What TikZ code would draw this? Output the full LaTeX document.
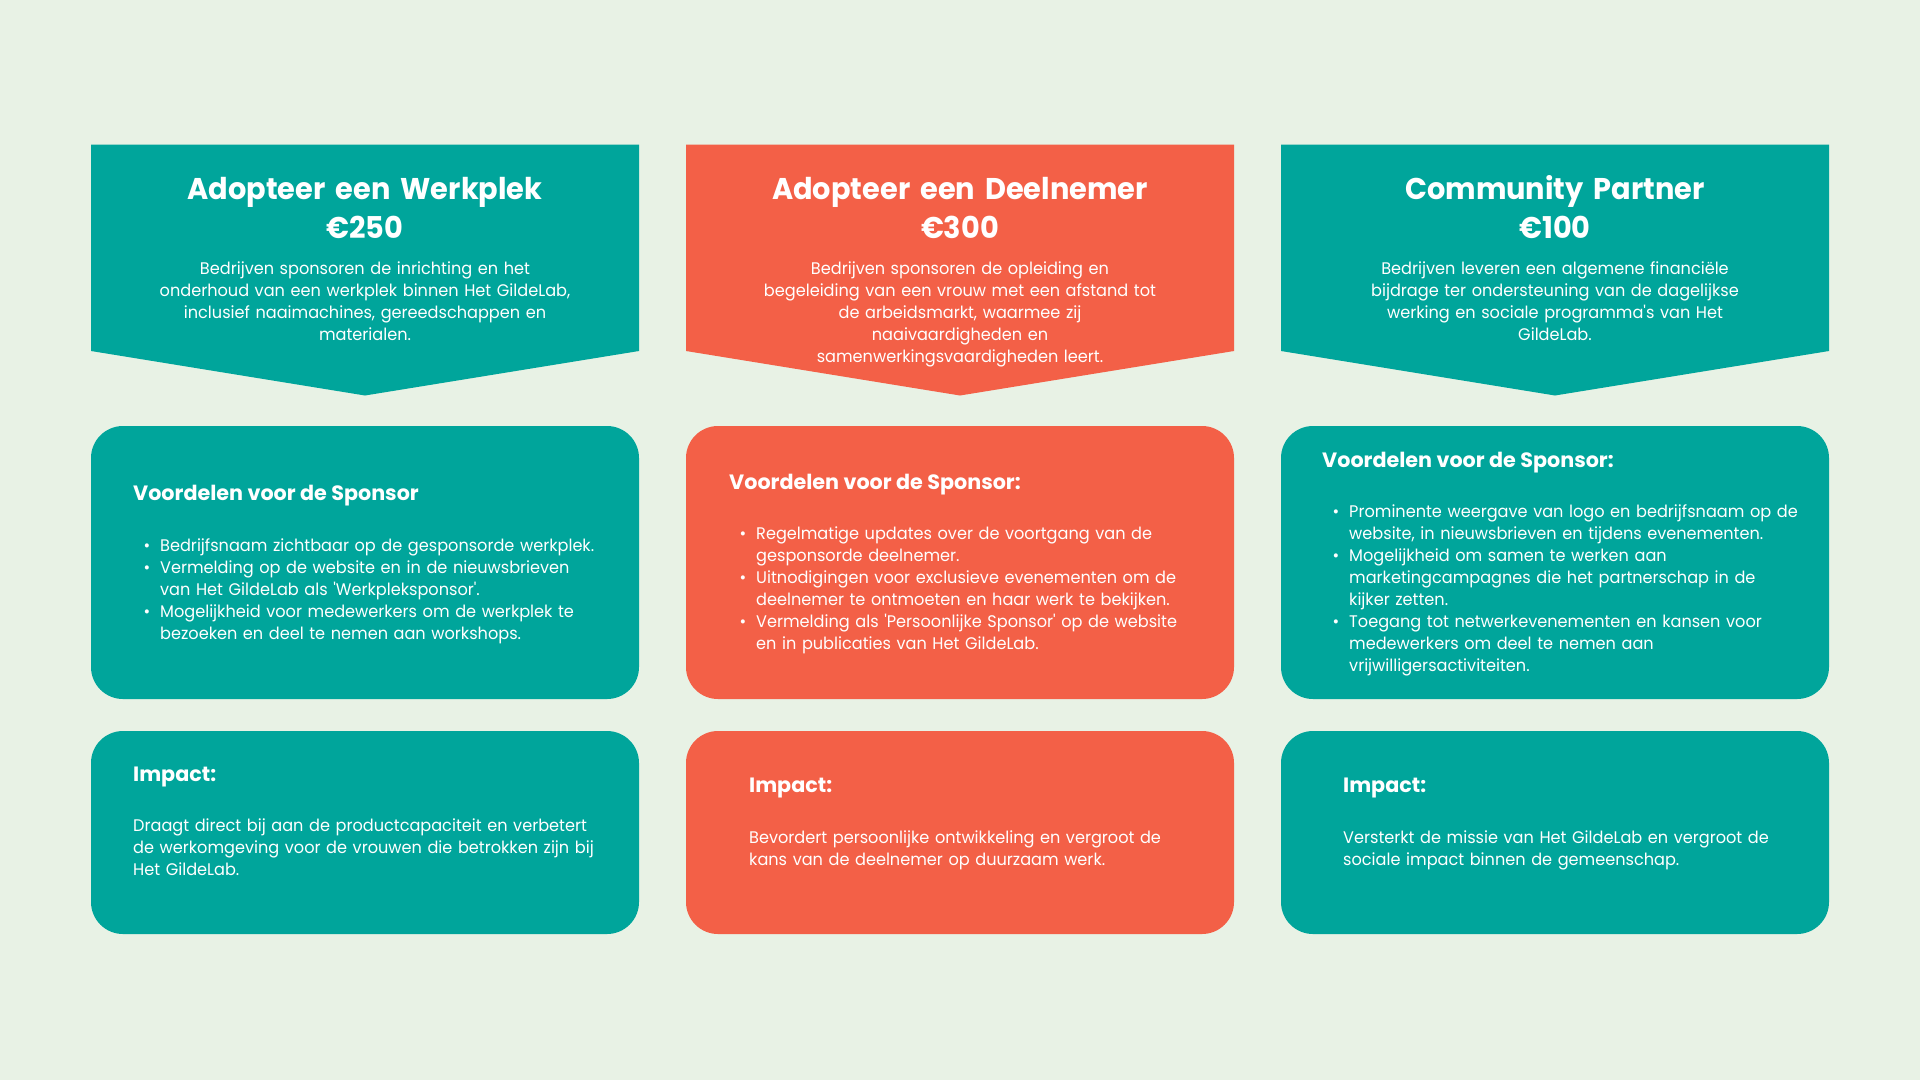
\documentclass[tikz,border=0pt]{standalone}
\usepackage{fontspec}
\setmainfont{Poppins}[Ligatures=TeXOff]
\newfontfamily\bodyf{Poppins}[Ligatures=TeXOff, FakeStretch=0.96]
\newfontfamily\titlef{Poppins}[Ligatures=TeXOff, FakeStretch=0.96]
\definecolor{bgc}{RGB}{232,242,229}
\definecolor{tealc}{RGB}{0,165,155}
\definecolor{coralc}{RGB}{243,96,71}
\newcommand\bul{\makebox[0pt][r]{\textbullet\hspace{10pt}}}
\begin{document}
\begin{tikzpicture}[x=1pt,y=-1pt,
  titletext/.style={font=\titlef\bfseries\fontsize{30}{39}\selectfont, text=white, text width=540pt, align=center, anchor=base, inner sep=0pt},
  desctext/.style={font=\bodyf\fontsize{16.8}{22}\selectfont, text=white, text width=540pt, align=center, anchor=base, inner sep=0pt},
  headtext/.style={font=\bfseries\fontsize{20.7}{24}\selectfont, text=white, anchor=base west, inner sep=0pt},
  bodytext/.style={font=\bodyf\fontsize{16.8}{22}\selectfont, text=white, text width=500pt, align=left, anchor=base west, inner sep=0pt},
  card/.style={rounded corners=32pt}]
\useasboundingbox (0,0) rectangle (1920,1080);
\fill[bgc] (0,0) rectangle (1920,1080);
% headers
\fill[tealc] (91,144.5) -- (639,144.5) -- (639,351) -- (365,395.5) -- (91,351) -- cycle;
\fill[coralc] (686,144.5) -- (1234,144.5) -- (1234,351) -- (960,395.5) -- (686,351) -- cycle;
\fill[tealc] (1281,144.5) -- (1829,144.5) -- (1829,351) -- (1555,395.5) -- (1281,351) -- cycle;
% cards
\fill[tealc, card] (91,426) rectangle (639,699);
\fill[coralc, card] (686,426) rectangle (1234,699);
\fill[tealc, card] (1281,426) rectangle (1829,699);
\fill[tealc, card] (91,731) rectangle (639,934);
\fill[coralc, card] (686,731) rectangle (1234,934);
\fill[tealc, card] (1281,731) rectangle (1829,934);
% column 1
\node[titletext] (t1) at (365,199) {Adopteer een Werkplek\\€250};
\node[desctext] (d1) at (365,274.7) {Bedrijven sponsoren de inrichting en het\\onderhoud van een werkplek binnen Het GildeLab,\\inclusief naaimachines, gereedschappen en\\materialen.};
\node[headtext] (h1) at (133,500) {Voordelen voor de Sponsor};
\node[bodytext] (b1) at (160,551) {\bul Bedrijfsnaam zichtbaar op de gesponsorde werkplek.\\\bul Vermelding op de website en in de nieuwsbrieven\\van Het GildeLab als 'Werkpleksponsor'.\\\bul Mogelijkheid voor medewerkers om de werkplek te\\bezoeken en deel te nemen aan workshops.};
\node[headtext] (i1) at (133,781) {Impact:};
\node[bodytext] (j1) at (133,831.7) {Draagt direct bij aan de productcapaciteit en verbetert\\de werkomgeving voor de vrouwen die betrokken zijn bij\\Het GildeLab.};
% column 2
\node[titletext] (t2) at (960,199) {Adopteer een Deelnemer\\€300};
\node[desctext] (d2) at (960,274.7) {Bedrijven sponsoren de opleiding en\\begeleiding van een vrouw met een afstand tot\\de arbeidsmarkt, waarmee zij\\naaivaardigheden en\\samenwerkingsvaardigheden leert.};
\node[headtext] (h2) at (729,489) {Voordelen voor de Sponsor:};
\node[bodytext] (b2) at (756,539) {\bul Regelmatige updates over de voortgang van de\\gesponsorde deelnemer.\\\bul Uitnodigingen voor exclusieve evenementen om de\\deelnemer te ontmoeten en haar werk te bekijken.\\\bul Vermelding als 'Persoonlijke Sponsor' op de website\\en in publicaties van Het GildeLab.};
\node[headtext] (i2) at (749,792) {Impact:};
\node[bodytext] (j2) at (749,843) {Bevordert persoonlijke ontwikkeling en vergroot de\\kans van de deelnemer op duurzaam werk.};
% column 3
\node[titletext] (t3) at (1555,199) {Community Partner\\€100};
\node[desctext] (d3) at (1555,274.7) {Bedrijven leveren een algemene financiële\\bijdrage ter ondersteuning van de dagelijkse\\werking en sociale programma's van Het\\GildeLab.};
\node[headtext] (h3) at (1322,467) {Voordelen voor de Sponsor:};
\node[bodytext] (b3) at (1349,517) {\bul Prominente weergave van logo en bedrijfsnaam op de\\website, in nieuwsbrieven en tijdens evenementen.\\\bul Mogelijkheid om samen te werken aan\\marketingcampagnes die het partnerschap in de\\kijker zetten.\\\bul Toegang tot netwerkevenementen en kansen voor\\medewerkers om deel te nemen aan\\vrijwilligersactiviteiten.};
\node[headtext] (i3) at (1343,792) {Impact:};
\node[bodytext] (j3) at (1343,843) {Versterkt de missie van Het GildeLab en vergroot de\\sociale impact binnen de gemeenschap.};
\end{tikzpicture}
\end{document}
